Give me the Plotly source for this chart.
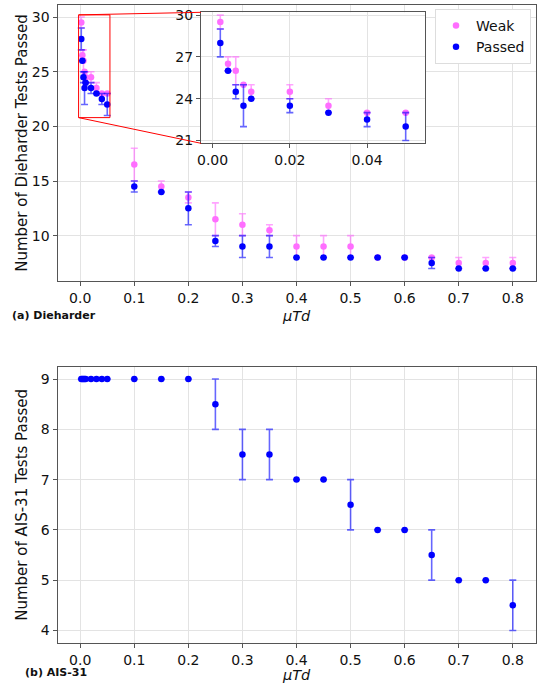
import plotly.graph_objects as go

# ---------------- data ----------------
mu_td = [0.002, 0.004, 0.006, 0.008, 0.01, 0.02, 0.03, 0.04, 0.05,
         0.1, 0.15, 0.2, 0.25, 0.3, 0.35, 0.4, 0.45, 0.5, 0.55, 0.6,
         0.65, 0.7, 0.75, 0.8]
weak_mean = [29.5, 26.5, 26, 25, 24.5, 24.5, 23.5, 23, 23,
             16.5, 14.5, 13.5, 11.5, 11, 10.5, 9, 9, 9, 8, 8,
             8, 7.5, 7.5, 7.5]
weak_err = [0.5, 0.5, 1, 0, 0.5, 0.5, 0.5, 0, 0,
            1.5, 0.5, 0.5, 1.5, 1, 0.5, 1, 1, 1, 0, 0,
            0, 0.5, 0.5, 0.5]
passed_mean = [28, 26, 24.5, 23.5, 24, 23.5, 23, 22.5, 22,
               14.5, 14, 12.5, 9.5, 9, 9, 8, 8, 8, 8, 8,
               7.5, 7, 7, 7]
passed_err = [1, 0, 0.5, 1.5, 0, 0.5, 0, 0.5, 1,
              0.5, 0, 1.5, 0.5, 1, 1, 0, 0, 0, 0, 0,
              0.5, 0, 0, 0]
ais_mean = [9, 9, 9, 9, 9, 9, 9, 9, 9,
            9, 9, 9, 8.5, 7.5, 7.5, 7, 7, 6.5, 6, 6,
            5.5, 5, 5, 4.5]
ais_err = [0, 0, 0, 0, 0, 0, 0, 0, 0,
           0, 0, 0, 0.5, 0.5, 0.5, 0, 0, 0.5, 0, 0,
           0.5, 0, 0, 0.5]

x_title = "<i>μTd</i>"
y_title_top = "Number of Dieharder Tests Passed"
y_title_bot = "Number of AIS-31 Tests Passed"
panel_a = "<b>(a) Dieharder</b>"
panel_b = "<b>(b) AIS-31</b>"

# ---------------- styling / layout ----------------
W, H = 540, 684
FONT = "DejaVu Sans"
WEAK_C = "rgb(255,110,255)"
WEAK_E = "rgba(255,90,255,0.55)"
PASS_C = "rgb(0,0,255)"
PASS_E = "rgba(0,0,255,0.6)"

main_xr = [-0.042, 0.842]
top_yr = [5.85, 31.15]
bot_yr = [3.75, 9.25]
ins_xr = [-0.003, 0.055]
ins_yr = [20.8, 30.2]

dom_x = [57.5 / W, 535.5 / W]
dom_top = [1 - 281 / H, 1 - 4.5 / H]
dom_bot = [1 - 643 / H, 1 - 366.5 / H]
ins_dx = [201 / W, 425 / W]
ins_dy = [1 - 143.3 / H, 1 - 12.3 / H]


def trace(x, y, e, color, ecolor, name, xa, ya, legend):
    return go.Scatter(
        x=x, y=y, mode="markers", name=name, showlegend=legend,
        xaxis=xa, yaxis=ya,
        marker=dict(color=color, size=6.5),
        error_y=dict(type="data", array=e, visible=True, color=ecolor,
                     thickness=1.6, width=3.5),
    )


fig = go.Figure()
fig.add_trace(trace(mu_td, weak_mean, weak_err, WEAK_C, WEAK_E, "Weak", "x", "y", True))
fig.add_trace(trace(mu_td, passed_mean, passed_err, PASS_C, PASS_E, "Passed", "x", "y", True))
fig.add_trace(trace(mu_td, ais_mean, ais_err, PASS_C, PASS_E, "Passed", "x2", "y2", False))
fig.add_trace(trace(mu_td, weak_mean, weak_err, WEAK_C, WEAK_E, "Weak", "x3", "y3", False))
fig.add_trace(trace(mu_td, passed_mean, passed_err, PASS_C, PASS_E, "Passed", "x3", "y3", False))

ax_common = dict(showgrid=True, gridcolor="#e3e3e3", gridwidth=1,
                 showline=True, linecolor="#555", linewidth=1, mirror=True,
                 ticks="outside", ticklen=4, tickcolor="#555",
                 zeroline=False, automargin=False,
                 tickfont=dict(family=FONT, size=14, color="#111"))

fig.update_layout(
    width=W, height=H, margin=dict(l=0, r=0, t=0, b=0, autoexpand=False),
    paper_bgcolor="white", plot_bgcolor="white",
    font=dict(family=FONT, color="#111"),
    showlegend=True,
    legend=dict(x=531 / W, y=1 - 9 / H, xanchor="right", yanchor="top",
                bgcolor="white", bordercolor="#ddd", borderwidth=1,
                font=dict(family=FONT, size=14)),
    xaxis=dict(domain=dom_x, anchor="y", range=main_xr, dtick=0.1, tick0=0,
               tickformat=".1f", **ax_common),
    yaxis=dict(domain=dom_top, anchor="x", range=top_yr, dtick=5, tick0=0,
               **ax_common),
    xaxis2=dict(domain=dom_x, anchor="y2", range=main_xr, dtick=0.1, tick0=0,
                tickformat=".1f", **ax_common),
    yaxis2=dict(domain=dom_bot, anchor="x2", range=bot_yr, dtick=1, tick0=0,
                **ax_common),
    xaxis3=dict(domain=ins_dx, anchor="y3", range=ins_xr, dtick=0.02, tick0=0,
                tickformat=".2f", **ax_common),
    yaxis3=dict(domain=ins_dy, anchor="x3", range=ins_yr, dtick=3, tick0=21,
                **ax_common),
)


def to_paper(v, rng, dom):
    return dom[0] + (v - rng[0]) / (rng[1] - rng[0]) * (dom[1] - dom[0])


# zoom rectangle in the main axes
fig.add_shape(type="rect", xref="x", yref="y",
              x0=ins_xr[0], x1=ins_xr[1], y0=ins_yr[0], y1=ins_yr[1],
              line=dict(color="red", width=1), layer="above")

# connector lines: box upper-left -> inset upper-left, box lower-left -> inset lower-left
bx = to_paper(ins_xr[0], main_xr, dom_x)
by_top = to_paper(ins_yr[1], top_yr, dom_top)
by_bot = to_paper(ins_yr[0], top_yr, dom_top)
fig.add_shape(type="line", xref="paper", yref="paper",
              x0=bx, y0=by_top, x1=ins_dx[0], y1=ins_dy[1],
              line=dict(color="red", width=1), layer="above")
fig.add_shape(type="line", xref="paper", yref="paper",
              x0=bx, y0=by_bot, x1=ins_dx[0], y1=ins_dy[0],
              line=dict(color="red", width=1), layer="above")

# axis titles as annotations
xc = (dom_x[0] + dom_x[1]) / 2
for txt, yy in [(x_title, 1 - 315.5 / H), (x_title, 1 - 675 / H)]:
    fig.add_annotation(text=txt, xref="paper", yref="paper", x=xc, y=yy,
                       xanchor="center", yanchor="middle", showarrow=False,
                       font=dict(family=FONT, size=14.5, color="#111"))
for txt, dom in [(y_title_top, dom_top), (y_title_bot, dom_bot)]:
    fig.add_annotation(text=txt, xref="paper", yref="paper", x=22 / W,
                       y=(dom[0] + dom[1]) / 2, xanchor="center", yanchor="middle",
                       textangle=-90, showarrow=False,
                       font=dict(family=FONT, size=15, color="#111"))

fig.add_annotation(text=panel_a, xref="paper", yref="paper",
                   x=10 / W, y=1 - 315 / H, xanchor="left", yanchor="middle",
                   showarrow=False, font=dict(family=FONT, size=11, color="#111"))
fig.add_annotation(text=panel_b, xref="paper", yref="paper",
                   x=23 / W, y=1 - 672 / H, xanchor="left", yanchor="middle",
                   showarrow=False, font=dict(family=FONT, size=11, color="#111"))

fig.write_html("out.html", config={"displayModeBar": False},
               post_script="document.body.style.margin='0';")
